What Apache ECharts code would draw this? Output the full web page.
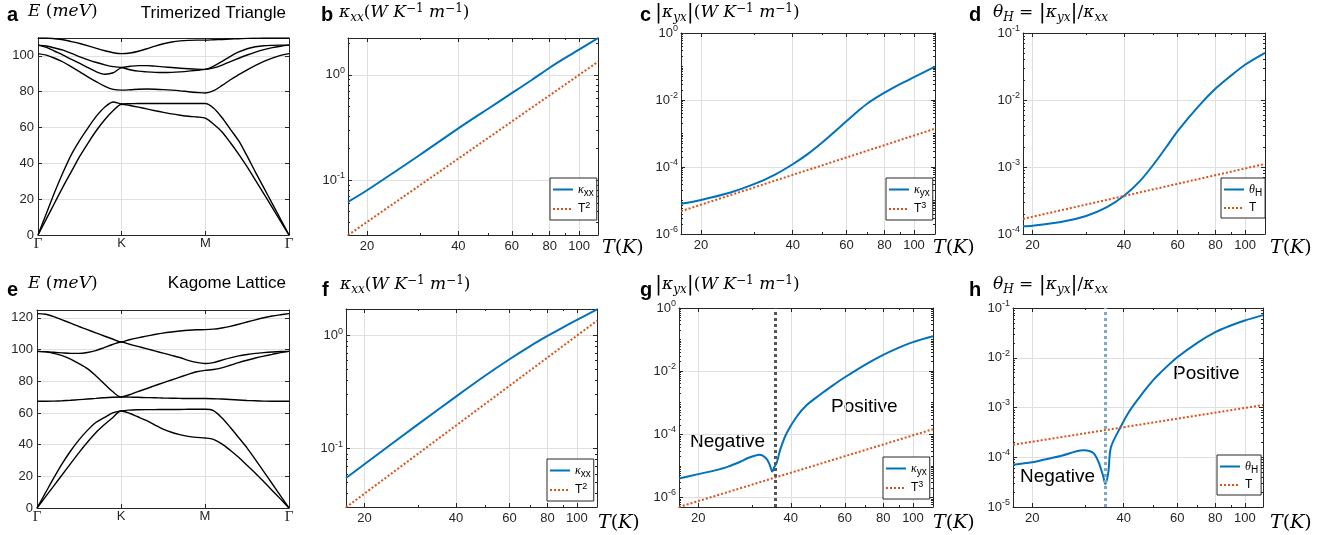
<!DOCTYPE html>
<html>
<head>
<meta charset="utf-8">
<script src="https://cdn.jsdelivr.net/npm/echarts@6/dist/echarts.min.js"></script>
<style>
  html, body { margin: 0; padding: 0; background: #fff; }
  #chart { width: 1340px; height: 535px; }
</style>
</head>
<body>
<div id="chart"></div>
<script>
// k-path  Γ - K - M - Γ
const kPath = [0, 0.1, 0.2, 0.3, 0.4, 0.5, 0.6, 0.7, 0.8, 0.9, 1.0, 1.1, 1.2, 1.3, 1.4, 1.5,
  1.6, 1.7, 1.8, 1.9, 2.0, 2.1, 2.2, 2.3, 2.4, 2.5, 2.6, 2.7, 2.8, 2.9, 3.0];
const kTicks = [0, 1, 2, 3];
const kLabels = ['Γ', 'K', 'M', 'Γ'];

// a: trimerized triangle bands (meV)
const triBand1 = [0, 9, 18, 27, 35.5, 44, 51.5, 58.5, 64.5, 69.5, 73, 72.3, 71.4, 70.4, 69.4, 68.5,
  67.6, 66.9, 66.3, 65.9, 65.2, 61.8, 57.5, 51.5, 45, 38, 30.5, 23, 15.3, 7.6, 0];
const triBand2 = [0, 12, 24, 35, 45, 53, 60, 66.5, 71.5, 74.3, 73.2, 73.3, 73.4, 73.4, 73.4, 73.4,
  73.4, 73.4, 73.4, 73.4, 73.4, 70.8, 65.5, 59, 52.5, 44, 35, 26.3, 17.5, 8.8, 0];
const triBand3 = [101.3, 100.4, 98.7, 96.6, 93.9, 91.1, 88.2, 85.5, 83, 81.3, 80.9, 81.1, 81.4, 81.5, 81.4, 81.2,
  80.9, 80.5, 80, 79.6, 79.3, 80.6, 83.5, 86.7, 89.5, 92.2, 94.7, 96.9, 98.8, 100.3, 101.3];
const triBand4 = [106, 104.8, 102.6, 100.4, 98, 95.8, 93.4, 91.1, 89.8, 90.6, 93.3, 92.3, 91.5, 91.1, 90.8, 90.7,
  90.8, 91.1, 91.5, 92, 92.5, 93.3, 94.9, 96.8, 98.7, 100.5, 102.1, 103.5, 104.6, 105.4, 106];
const triBand5 = [106, 105.5, 104.4, 103.2, 101.4, 99.5, 97.8, 96.3, 95, 94, 93.6, 94.2, 94.6, 94.6, 94.3, 93.9,
  93.5, 93.1, 92.8, 92.6, 92.5, 94.3, 97, 99.8, 102.2, 104, 105.1, 105.7, 105.9, 106, 106];
const triBand6 = [110, 110, 109.6, 109, 108, 106.9, 105.6, 104.2, 102.9, 101.8, 101.3, 101.6, 102.6, 104, 105.5, 106.8,
  107.8, 108.4, 108.7, 108.8, 108.8, 109, 109.2, 109.4, 109.6, 109.8, 109.9, 110, 110, 110, 110];

// e: kagome lattice bands (meV)
const kagBand1 = [0, 7, 14, 21, 28, 35, 41.5, 47.5, 52.5, 57, 61.2, 59.8, 57.6, 55.3, 52.5, 49.8,
  47.8, 46.3, 45.2, 44.6, 44.2, 43.3, 40.5, 36.5, 32, 27, 22, 16.6, 11.1, 5.6, 0];
const kagBand2 = [0, 9.5, 19, 28, 36, 43, 49, 54, 57, 60, 61.3, 61.8, 62, 62.1, 62.1, 62.2,
  62.2, 62.2, 62.3, 62.3, 62.3, 61.5, 57, 51, 44.5, 38, 30.5, 23, 15.3, 7.6, 0];
const kagBand3 = [67.4, 67.4, 67.5, 67.7, 68, 68.4, 68.8, 69.2, 69.6, 69.9, 70.1, 70, 69.9, 69.7, 69.6, 69.4,
  69.3, 69.2, 69.1, 69.1, 69.1, 69, 68.8, 68.5, 68.2, 67.9, 67.7, 67.5, 67.4, 67.4, 67.4];
const kagBand4 = [98.9, 98.6, 97.6, 96.2, 94, 91.2, 88, 83.5, 78.5, 73.5, 70.1, 71.5, 73.5, 75.3, 77.2, 79,
  80.8, 82.6, 84.4, 86, 86.9, 87.4, 88.5, 90.1, 91.8, 93.3, 94.7, 95.9, 97, 98.1, 98.9];
const kagBand5 = [98.9, 98.7, 98.3, 97.9, 97.6, 97.6, 98.2, 99.4, 101.3, 103.2, 104.8, 103.4, 102, 100.6, 99.2, 97.8,
  96.4, 95, 93.2, 91.9, 91.2, 91.8, 93.3, 94.8, 96, 96.9, 97.6, 98.1, 98.5, 98.8, 98.9];
const kagBand6 = [122.7, 122.3, 120.8, 118.8, 116.7, 114.6, 112.6, 110.6, 108.6, 106.7, 104.8, 106.2, 107.4, 108.5, 109.5, 110.4,
  111.1, 111.7, 112.2, 112.5, 112.6, 112.9, 113.6, 114.7, 116, 117.4, 118.8, 120.1, 121.2, 122, 122.7];

// b: kappa_xx, trimerized
const tB = [17.3, 20, 30, 40, 50, 60, 70, 80, 90, 100, 115.5];
const kxxB = [0.062, 0.080, 0.175, 0.31, 0.474, 0.67, 0.90, 1.17, 1.45, 1.74, 2.24];
const tFitB = [17.3, 115.5];
const fitB = [0.0299, 1.334];

// c: |kappa_yx|, trimerized
const tC = [17.2, 20, 25, 30, 35, 40, 45, 50, 55, 60, 65, 70, 80, 90, 100, 117.2];
const kyxC = [7.94e-6, 1.04e-5, 1.74e-5, 3.12e-5, 5.96e-5, 1.21e-4, 2.51e-4, 5.36e-4, 1.14e-3, 2.32e-3,
  4.41e-3, 7.62e-3, 1.65e-2, 2.98e-2, 4.84e-2, 9.9e-2];
const tFitC = [17.2, 117.2];
const fitC = [4.8e-6, 1.39e-3];

// d: theta_H, trimerized
const tD = [18.6, 20, 25, 30, 35, 40, 45, 50, 55, 60, 70, 80, 90, 100, 116.3];
const thetaD = [1.30e-4, 1.33e-4, 1.52e-4, 1.86e-4, 2.49e-4, 3.72e-4, 6.10e-4, 1.09e-3, 1.97e-3, 3.44e-3,
  7.91e-3, 1.48e-2, 2.32e-2, 3.36e-2, 5.05e-2];
const tFitD = [18.6, 116.3];
const fitD = [1.68e-4, 1.11e-3];

// f: kappa_xx, kagome
const tF = [17.4, 20, 30, 40, 50, 60, 70, 80, 90, 100, 116.4];
const kxxF = [0.0551, 0.0728, 0.164, 0.289, 0.444, 0.618, 0.804, 0.993, 1.186, 1.38, 1.706];
const tFitF = [17.4, 116.4];
const fitF = [0.0303, 1.355];

// g: |kappa_yx|, kagome (sign change near 35 K)
const tG = [17.3, 20, 22.5, 25, 27.5, 29, 30.5, 31.5, 32.5, 33.5, 34.2, 34.8, 35.3, 36, 37, 38.8,
  41.8, 45, 50, 55, 60, 70, 80, 90, 100, 116.2];
const kyxG = [3.98e-6, 5.5e-6, 7.1e-6, 9.5e-6, 1.38e-5, 1.78e-5, 2.09e-5, 2.24e-5, 2.09e-5, 1.58e-5,
  1.05e-5, 6.6e-6, 8.9e-6, 1.26e-5, 3.4e-5, 1.1e-4, 3.6e-4, 8.3e-4, 1.85e-3, 3.61e-3, 6.41e-3,
  1.62e-2, 3.28e-2, 5.57e-2, 8.32e-2, 0.127];
const tFitG = [17.3, 116.2];
const fitG = [5.0e-7, 1.45e-4];
const signG = 35.1;

// h: theta_H, kagome
const tH = [17.3, 20, 21.8, 25, 28, 29.5, 31, 32, 33.1, 34.2, 34.8, 35.6, 36.3, 39.1, 42, 46, 50, 52.6,
  60, 70, 80, 90, 100, 114.8];
const thetaH = [7.1e-5, 7.9e-5, 8.9e-5, 1.07e-4, 1.32e-4, 1.38e-4, 1.32e-4, 1.17e-4, 7.9e-5, 4.3e-5,
  2.9e-5, 5.0e-5, 1.58e-4, 4.1e-4, 8.9e-4, 1.9e-3, 3.55e-3, 4.9e-3, 1.02e-2, 2.02e-2, 3.27e-2,
  4.44e-2, 5.6e-2, 7.18e-2];
const tFitH = [17.3, 114.8];
const fitH = [1.78e-4, 1.12e-3];
const signH = 34.8;

const tMajor = [20, 40, 60, 80, 100];

const lg = Math.log10;
const boxColor = '#262626';
const gridColor = '#dfdfdf';
const blue = '#0072BD';
const orange = '#D95319';
const sans = 'Liberation Sans';
const serif = 'DejaVu Serif';

// minor log tick positions (log10 space)
function logMinor(lo, hi) {
  const out = [];
  for (let d = Math.floor(lo) - 1; d <= Math.ceil(hi); d++) {
    for (let m = 1; m <= 9; m++) {
      const v = d + lg(m);
      if (v > lo + 1e-6 && v < hi - 1e-6) out.push(v);
    }
  }
  return out;
}

const tickLabel = { fontFamily: sans, fontSize: 13, color: boxColor };
const powRich = {
  b: { fontFamily: sans, fontSize: 13, color: boxColor },
  e: { fontFamily: sans, fontSize: 9, color: boxColor, padding: [0, 0, 9, 0] }
};

// 4 axes per dimension: main (labels + grid), main minor, mirror, mirror minor
function axes(gi, dim, min, max, major, minor, label) {
  const pos = dim === 'x' ? ['bottom', 'top'] : ['left', 'right'];
  const tick = (vals, len) => ({ show: vals.length > 0, inside: true, length: len, customValues: vals,
    lineStyle: { color: boxColor, width: 1 } });
  const base = { gridIndex: gi, type: 'value', min: min, max: max, silent: true,
    axisLine: { show: false, onZero: false }, axisLabel: { show: false }, splitLine: { show: false } };
  const line = { show: true, onZero: false, lineStyle: { color: boxColor, width: 1 } };
  return [
    Object.assign({}, base, { position: pos[0], axisLine: line, axisTick: tick(major, 4),
      axisLabel: Object.assign({ show: true, customValues: major }, label),
      splitLine: { show: true, lineStyle: { color: gridColor, width: 1 } } }),
    Object.assign({}, base, { position: pos[0], axisTick: tick(minor, 2) }),
    Object.assign({}, base, { position: pos[1], axisLine: line, axisTick: tick(major, 4) }),
    Object.assign({}, base, { position: pos[1], axisTick: tick(minor, 2) })
  ];
}

const grids = [
  { left: 38, top: 38, width: 251, height: 197 },
  { left: 348, top: 38, width: 250, height: 197 },
  { left: 681, top: 33, width: 254, height: 201 },
  { left: 1023, top: 33, width: 242, height: 201 },
  { left: 37, top: 310, width: 252, height: 198 },
  { left: 346, top: 309, width: 251, height: 198 },
  { left: 679, top: 308, width: 254, height: 199 },
  { left: 1013, top: 308, width: 250, height: 199 }
];

const kLabel = Object.assign({}, tickLabel, { margin: 2,
  formatter: v => v === 1 ? 'K' : v === 2 ? 'M' : '{g|' + kLabels[0] + '}',
  rich: { g: { fontFamily: 'Liberation Serif', fontSize: 15, color: boxColor } } });
const eLabel = Object.assign({}, tickLabel, { margin: 4 });
const tLabel = Object.assign({}, tickLabel, { margin: 5, formatter: v => String(Math.round(Math.pow(10, v))) });
const pLabel = Object.assign({}, tickLabel, { margin: 3, formatter: v => '{b|10}{e|' + Math.round(v) + '}', rich: powRich });

const xAxes = [], yAxes = [];
function bandPanel(gi, ymax, yticks) {
  xAxes.push(...axes(gi, 'x', 0, 3, kTicks, [], kLabel));
  yAxes.push(...axes(gi, 'y', 0, ymax, yticks, [], eLabel));
}
function logPanel(gi, tr, yr, ymajor) {
  const x0 = lg(tr[0]), x1 = lg(tr[1]), y0 = lg(yr[0]), y1 = lg(yr[1]);
  xAxes.push(...axes(gi, 'x', x0, x1, tMajor.map(lg), logMinor(x0, x1), tLabel));
  yAxes.push(...axes(gi, 'y', y0, y1, ymajor, logMinor(y0, y1), pLabel));
}

bandPanel(0, 110, [0, 20, 40, 60, 80, 100]);
logPanel(1, [17.3, 115.5], [0.030, 2.245], [-1, 0]);
logPanel(2, [17.2, 117.2], [1e-6, 1], [-6, -4, -2, 0]);
logPanel(3, [18.6, 116.3], [1e-4, 0.1], [-4, -3, -2, -1]);
bandPanel(4, 125, [0, 20, 40, 60, 80, 100, 120]);
logPanel(5, [17.4, 116.4], [0.0305, 1.72], [-1, 0]);
logPanel(6, [17.3, 116.2], [5.0e-7, 1], [-6, -4, -2, 0]);
logPanel(7, [17.3, 114.8], [1e-5, 0.1], [-5, -4, -3, -2, -1]);

const series = [];
function bands(gi, list) {
  list.forEach(b => series.push({
    type: 'line', xAxisIndex: gi * 4, yAxisIndex: gi * 4, symbol: 'none', smooth: 0.3, silent: true,
    lineStyle: { color: '#000', width: 1.4 },
    data: kPath.map((k, i) => [k, b[i]])
  }));
}
function curve(gi, name, ts, vs, color, dotted, sign, signColor) {
  const s = {
    name: name, type: 'line', xAxisIndex: gi * 4, yAxisIndex: gi * 4, symbol: 'none', silent: true,
    smooth: dotted ? false : 0.3,
    lineStyle: { color: color, width: 2, type: dotted ? 'dotted' : 'solid' },
    itemStyle: { color: color },
    data: ts.map((t, i) => [lg(t), lg(vs[i])])
  };
  if (sign) {
    s.markLine = { silent: true, symbol: ['none', 'none'], label: { show: false },
      lineStyle: { color: signColor, width: 3, type: 'dotted' },
      data: [{ xAxis: lg(sign) }] };
  }
  series.push(s);
}

bands(0, [triBand1, triBand2, triBand3, triBand4, triBand5, triBand6]);
bands(4, [kagBand1, kagBand2, kagBand3, kagBand4, kagBand5, kagBand6]);
curve(1, 'kxx', tB, kxxB, blue);
curve(1, 'T2', tFitB, fitB, orange, true);
curve(2, 'kyx', tC, kyxC, blue);
curve(2, 'T3', tFitC, fitC, orange, true);
curve(3, 'thetaH', tD, thetaD, blue);
curve(3, 'T', tFitD, fitD, orange, true);
curve(5, 'kxx', tF, kxxF, blue);
curve(5, 'T2', tFitF, fitF, orange, true);
curve(6, 'kyx', tG, kyxG, blue, false, signG, '#555555');
curve(6, 'T3', tFitG, fitG, orange, true);
curve(7, 'thetaH', tH, thetaH, blue, false, signH, '#7fa8c6');
curve(7, 'T', tFitH, fitH, orange, true);

// legends
const legendText = {
  kxx: '{g|κ}{s|xx}', kyx: '{g|κ}{s|yx}', thetaH: '{g|θ}{s|H}',
  T2: 'T{p|2}', T3: 'T{p|3}', T: 'T'
};
function legend(left, top, names) {
  return {
    orient: 'vertical', left: left, top: top, itemWidth: 20, itemHeight: 12, itemGap: 3,
    padding: [3, 3, 3, 2], borderColor: boxColor, borderWidth: 1, backgroundColor: '#fff',
    selectedMode: false, data: names,
    itemStyle: { opacity: 0 },
    formatter: n => legendText[n],
    textStyle: {
      fontFamily: sans, fontSize: 12, color: '#000', lineHeight: 14,
      rich: {
        g: { fontFamily: 'Liberation Serif', fontStyle: 'italic', fontSize: 12, lineHeight: 14 },
        s: { fontFamily: sans, fontSize: 10, padding: [7, 0, 0, 0], lineHeight: 14 },
        p: { fontFamily: sans, fontSize: 9, padding: [0, 0, 7, 0], lineHeight: 14 }
      }
    }
  };
}

// text labels
const mathRich = {
  m: { fontFamily: serif, fontStyle: 'italic', fontSize: 17, fill: '#000' },
  r: { fontFamily: serif, fontSize: 17, fill: '#000' },
  bar: { fontFamily: serif, fontSize: 21, fill: '#000' },
  sb: { fontFamily: serif, fontStyle: 'italic', fontSize: 12, fill: '#000', padding: [9, 0, 0, 0] },
  sp: { fontFamily: serif, fontSize: 12, fill: '#000', padding: [0, 0, 9, 0] },
  tm: { fontFamily: serif, fontStyle: 'italic', fontSize: 19, fill: '#000' },
  tr: { fontFamily: serif, fontSize: 19, fill: '#000' }
};
function txt(x, y, text, font, align) {
  return { type: 'text', x: x, y: y, silent: true,
    style: { text: text, font: font, fill: '#000', align: align || 'left', verticalAlign: 'middle' } };
}
function math(x, y, text) {
  return { type: 'text', x: x, y: y, silent: true,
    style: { text: text, rich: mathRich, fill: '#000', align: 'left', verticalAlign: 'middle' } };
}
const letter = 'bold 20px ' + sans;
const kxxTitle = '{m|κ}{sb|xx}{r|(}{m|W K}{sp|−1}{m| m}{sp|−1}{r|)}';
const kyxTitle = '{bar||}{m|κ}{sb|yx}{bar||}{r|(}{m|W K}{sp|−1}{m| m}{sp|−1}{r|)}';
const thetaTitle = '{m|θ}{sb|H}{r| = }{bar||}{m|κ}{sb|yx}{bar||}{r|/}{m|κ}{sb|xx}';
const eTitle = '{m|E}{r| (}{m|meV}{r|)}';
const tTitle = '{tm|T}{tr|(}{tm|K}{tr|)}';

const graphic = [
  txt(7, 15, 'a', letter), txt(321, 15, 'b', letter), txt(640, 15, 'c', letter), txt(969, 15, 'd', letter),
  txt(7, 290, 'e', letter), txt(322, 290, 'f', letter), txt(640, 290, 'g', letter), txt(969, 290, 'h', letter),
  math(28, 12, eTitle), math(339, 13, kxxTitle), math(655, 13, kyxTitle), math(993, 13, thetaTitle),
  math(28, 284, eTitle), math(340, 285, kxxTitle), math(655, 285, kyxTitle), math(993, 285, thetaTitle),
  txt(286, 13, 'Trimerized Triangle', '17px ' + sans, 'right'),
  txt(286, 283, 'Kagome Lattice', '17px ' + sans, 'right'),
  math(602, 248, tTitle), math(933, 248, tTitle), math(1270, 248, tTitle),
  math(598, 523, tTitle), math(933, 523, tTitle), math(1270, 523, tTitle),
  txt(690, 442, 'Negative', '19px ' + sans), txt(831, 407, 'Positive', '19px ' + sans),
  txt(1020, 477, 'Negative', '19px ' + sans), txt(1173, 374, 'Positive', '19px ' + sans)
];

const chart = echarts.init(document.getElementById('chart'));
chart.setOption({
  animation: false,
  backgroundColor: '#fff',
  grid: grids,
  xAxis: xAxes,
  yAxis: yAxes,
  legend: [
    legend(550, 178, ['kxx', 'T2']),
    legend(886, 178, ['kyx', 'T3']),
    legend(1221, 178, ['thetaH', 'T']),
    legend(547, 459, ['kxx', 'T2']),
    legend(883, 457, ['kyx', 'T3']),
    legend(1217, 455, ['thetaH', 'T'])
  ],
  graphic: graphic,
  series: series
});
</script>
</body>
</html>
